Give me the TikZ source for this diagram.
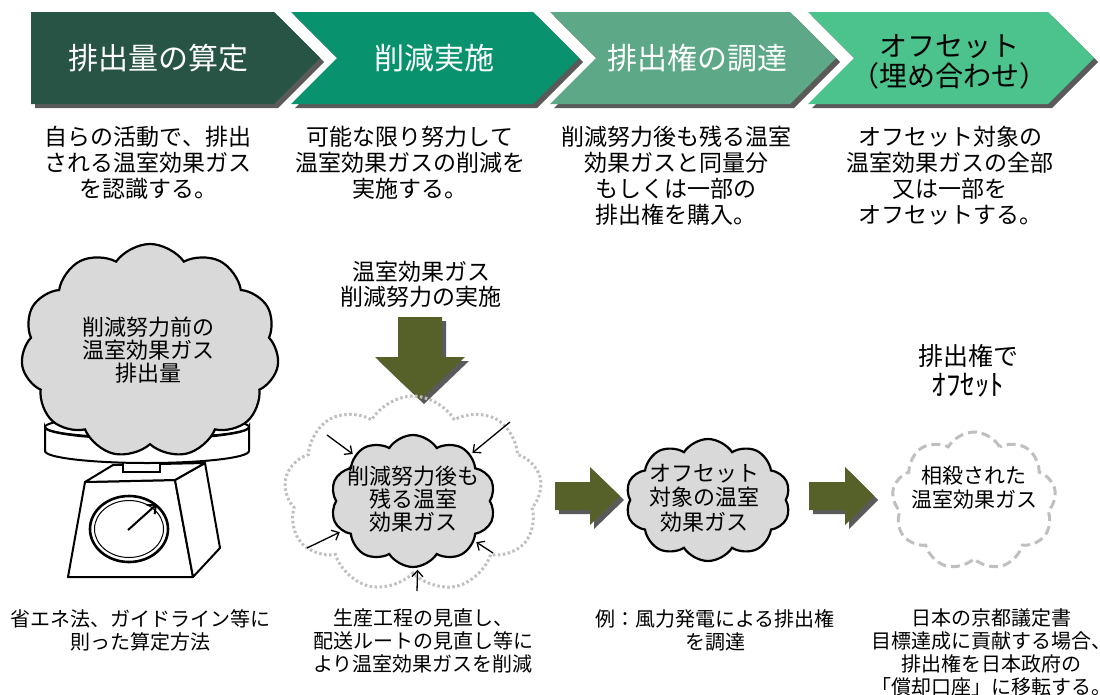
\documentclass[tikz,border=0pt]{standalone}
\usepackage{fontspec}
\setmainfont{Noto Sans CJK JP}
\usetikzlibrary{shapes.symbols,arrows.meta}

\definecolor{stepA}{HTML}{285446}
\definecolor{stepB}{HTML}{08926E}
\definecolor{stepC}{HTML}{5DA886}
\definecolor{stepD}{HTML}{4CC28D}
\definecolor{arrowolive}{HTML}{56612A}
\definecolor{shadowgray}{HTML}{5A5A5A}
\definecolor{gasfill}{HTML}{D9D9D9}
\definecolor{ghost}{HTML}{BFBFBF}

\tikzset{
  headtxt/.style={inner sep=0pt, align=center, font=\fontsize{30}{32}\selectfont},
  desc/.style={inner sep=0pt, align=center, font=\fontsize{23}{26}\selectfont},
  note/.style={inner sep=0pt, align=center, font=\fontsize{20}{23}\selectfont},
  cloudtxt/.style={inner sep=0pt, align=center, font=\fontsize{22}{23}\selectfont},
  gas/.style={cloud, cloud ignores aspect, draw=black, line width=2.2pt, fill=gasfill, inner sep=0pt},
  dotgas/.style={cloud, cloud ignores aspect, draw=ghost, line width=3pt, dash pattern=on 2.5pt off 2.5pt, inner sep=0pt},
  dashgas/.style={cloud, cloud ignores aspect, draw=ghost, line width=3pt, dash pattern=on 9pt off 5pt, inner sep=0pt},
  squeeze/.style={draw=black, line width=1.3pt, -{Straight Barb[length=6pt,width=11pt,line width=1.3pt]}, shorten >=2pt},
  blockarrow/.style={fill=arrowolive},
  blockshadow/.style={fill=shadowgray},
}

\begin{document}
\begin{tikzpicture}[x=1pt,y=-1pt]
\useasboundingbox (0,0) rectangle (1100,694);

% ---- process chevrons: shadows first, then the coloured steps
\fill[shadowgray] (35,16) -- (278,16) -- (324,62) -- (278,108) -- (35,108) -- cycle;
\fill[shadowgray] (295,16) -- (537,16) -- (583,62) -- (537,108) -- (295,108) -- (341,62) -- cycle;
\fill[shadowgray] (554,16) -- (794,16) -- (840,62) -- (794,108) -- (554,108) -- (600,62) -- cycle;
\fill[shadowgray] (812,16) -- (1052,16) -- (1098,62) -- (1052,108) -- (812,108) -- (858,62) -- cycle;

\fill[stepA] (31,12) -- (274,12) -- (320,58) -- (274,104) -- (31,104) -- cycle;
\fill[stepB] (291,12) -- (533,12) -- (579,58) -- (533,104) -- (291,104) -- (337,58) -- cycle;
\fill[stepC] (550,12) -- (790,12) -- (836,58) -- (790,104) -- (550,104) -- (596,58) -- cycle;
\fill[stepD] (808,12) -- (1048,12) -- (1094,58) -- (1048,104) -- (808,104) -- (854,58) -- cycle;

\node[headtxt,text=white] (h1) at (158,58) {排出量の算定};
\node[headtxt,text=white] (h2) at (434,58) {削減実施};
\node[headtxt,text=white] (h3) at (697,58) {排出権の調達};
\node[headtxt,text=black,font=\fontsize{28}{30}\selectfont] (h4) at (949,62) {オフセット\\（埋め合わせ）};

% ---- step descriptions
\node[desc] (d1) at (148,163) {自らの活動で、排出\\される温室効果ガス\\を認識する。};
\node[desc] (d2) at (410,163) {可能な限り努力して\\温室効果ガスの削減を\\実施する。};
\node[desc] (d3) at (676,176) {削減努力後も残る温室\\効果ガスと同量分\\もしくは一部の\\排出権を購入。};
\node[desc] (d4) at (950,176) {オフセット対象の\\温室効果ガスの全部\\又は一部を\\オフセットする。};

% ---- kitchen scale
% body: front face, right side and top
\filldraw[fill=white, draw=black, line width=2pt, line join=round]
  (85,482) -- (175,480) -- (193,577) -- (68,577) -- cycle;
\filldraw[fill=white, draw=black, line width=2pt, line join=round]
  (175,480) -- (205,463) -- (220,548) -- (193,577) -- cycle;
\filldraw[fill=white, draw=black, line width=2pt, line join=round]
  (85,482) -- (113,465) -- (205,463) -- (175,480) -- cycle;
% neck
\filldraw[fill=white, draw=black, line width=2pt] (123,452) rectangle (160,472);
% dial
\draw[line width=2.6pt] (129,529) ellipse[x radius=39, y radius=33];
\draw[line width=1pt] (129,529) ellipse[x radius=34.5, y radius=28.5];
\coordinate (dialc) at (128,530);
\coordinate (dialp) at (157,504);
\draw[line width=2pt, -{Straight Barb[length=7pt,width=12pt,line width=2pt]}] (dialc) -- (dialp);
% pan: rim with the lower arc, then the top ellipse
\filldraw[fill=white, draw=black, line width=2pt]
  (45,427) -- (45,451) arc[start angle=180, end angle=0, x radius=102, y radius=12]
  -- (249,427) arc[start angle=0, end angle=180, x radius=102, y radius=12] -- cycle;
\draw[line width=2pt] (147,427) ellipse[x radius=102, y radius=11];

% ---- emissions before reduction
\node[gas, cloud puffs=11, cloud puff arc=110, minimum width=258pt, minimum height=214pt] (before) at (150,351) {};
\node[cloudtxt] (beforetxt) at (148,350) {削減努力前の\\温室効果ガス\\排出量};

% ---- reduction effort
\node[desc, font=\fontsize{23}{25}\selectfont] (effort) at (421,284) {温室効果ガス\\削減努力の実施};
\fill[blockshadow] (402,321) -- (446,321) -- (446,361) -- (469,361) -- (424,404) -- (379,361) -- (402,361) -- cycle;
\fill[blockarrow] (398,317) -- (442,317) -- (442,357) -- (465,357) -- (420,400) -- (375,357) -- (398,357) -- cycle;

\node[dotgas, cloud puffs=9, cloud puff arc=120, minimum width=258pt, minimum height=196pt] (formerly) at (413,494) {};
\node[gas, cloud puffs=10, cloud puff arc=115, minimum width=165pt, minimum height=132pt] (after) at (413,501) {};
\node[cloudtxt] (aftertxt) at (413,499) {削減努力後も\\残る温室\\効果ガス};

\coordinate (s1) at (327,435);
\coordinate (s2) at (510,422);
\coordinate (s3) at (307,548);
\coordinate (s4) at (493,553);
\coordinate (s5) at (417,591);
\draw[squeeze] (s1) -- (after.142);
\draw[squeeze] (s2) -- (after.39);
\draw[squeeze] (s3) -- (after.203);
\draw[squeeze] (s4) -- (after.327);
\draw[squeeze] (s5) -- (after.274);

% ---- right block arrows
\fill[blockshadow] (559,486) -- (594,486) -- (594,471) -- (624,500) -- (594,529) -- (594,514) -- (559,514) -- cycle;
\fill[blockarrow] (555,482) -- (590,482) -- (590,467) -- (620,496) -- (590,525) -- (590,510) -- (555,510) -- cycle;
\fill[blockshadow] (813,486) -- (849,486) -- (849,471) -- (878,500) -- (849,529) -- (849,514) -- (813,514) -- cycle;
\fill[blockarrow] (809,482) -- (845,482) -- (845,467) -- (874,496) -- (845,525) -- (845,510) -- (809,510) -- cycle;

% ---- offset target
\node[gas, cloud puffs=10, cloud puff arc=115, minimum width=165pt, minimum height=122pt] (target) at (708,500) {};
\node[cloudtxt, font=\fontsize{22}{24.5}\selectfont] (targettxt) at (704,498) {オフセット\\対象の温室\\効果ガス};

% ---- offset result
\node[desc, font=\fontsize{25}{30}\selectfont] (credit) at (968,371) {排出権で\\{\fontsize{29}{30}\selectfont ｵﾌｾｯﾄ}};
\node[dashgas, cloud puffs=9, cloud puff arc=120, minimum width=164pt, minimum height=138pt] (cancelled) at (974,501) {};
\node[cloudtxt, font=\fontsize{21}{24}\selectfont] (cancelledtxt) at (974,488) {相殺された\\温室効果ガス};

% ---- footnotes
\node[note] (n1) at (140,630) {省エネ法、ガイドライン等に\\則った算定方法};
\node[note] (n2) at (423,641) {生産工程の見直し、\\配送ルートの見直し等に\\より温室効果ガスを削減};
\node[note] (n3) at (715,630) {例：風力発電による排出権\\を調達};
\node[note] (n4) at (991,652) {日本の京都議定書\\目標達成に貢献する場合、\\排出権を日本政府の\\「償却口座」に移転する。};
\end{tikzpicture}
\end{document}
